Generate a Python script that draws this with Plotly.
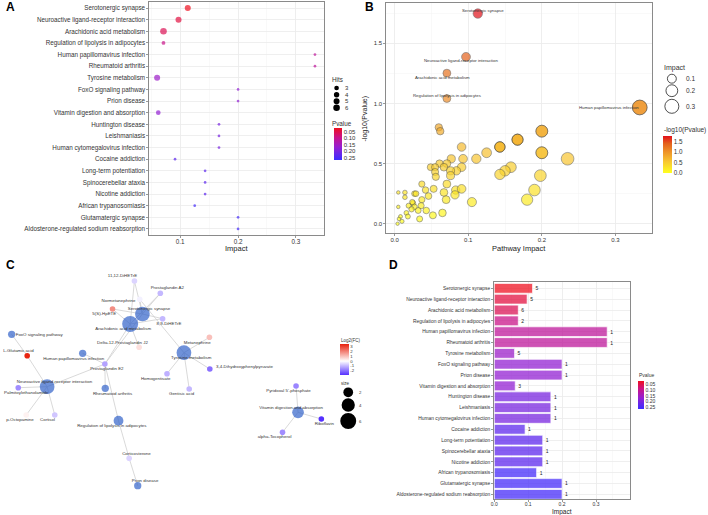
import math
import plotly.graph_objects as go

W, H = 708, 515
FONT = "Liberation Sans, Arial, sans-serif"


def px(x):
    return x / W


def py(y):
    return 1 - y / H


# ---------------- data: KEGG pathway enrichment (panels A, B, D) ----------------
pathways = [
    "Serotonergic synapse", "Neuroactive ligand-receptor interaction",
    "Arachidonic acid metabolism", "Regulation of lipolysis in adipocytes",
    "Human papillomavirus infection", "Rheumatoid arthritis", "Tyrosine metabolism",
    "FoxO signaling pathway", "Prion disease", "Vitamin digestion and absorption",
    "Huntington disease", "Leishmaniasis", "Human cytomegalovirus infection",
    "Cocaine addiction", "Long-term potentiation", "Spinocerebellar ataxia",
    "Nicotine addiction", "African trypanosomiasis", "Glutamatergic synapse",
    "Aldosterone-regulated sodium reabsorption",
]
impact = [0.113, 0.097, 0.071, 0.071, 0.333, 0.333, 0.060, 0.200, 0.200, 0.062,
          0.167, 0.167, 0.167, 0.091, 0.143, 0.143, 0.143, 0.125, 0.200, 0.200]
pvalue = [0.0179, 0.041, 0.056, 0.091, 0.108, 0.108, 0.158, 0.170, 0.170, 0.170,
          0.200, 0.200, 0.200, 0.230, 0.230, 0.230, 0.230, 0.257, 0.257, 0.257]
hits = [5, 5, 6, 2, 1, 1, 5, 1, 1, 3, 1, 1, 1, 1, 1, 1, 1, 1, 1, 1]

# other (unlabelled) pathways in the overview bubble plot (panel B)
other_impact = [0.235, 0.111, 0.093, 0.077, 0.061, 0.071, 0.049, 0.067, 0.055, 0.091,
                0.084, 0.076, 0.055, 0.056, 0.076, 0.158, 0.150, 0.143, 0.198, 0.037,
                0.071, 0.042, 0.053, 0.067, 0.083, 0.091, 0.190, 0.180, 0.105, 0.082,
                0.070, 0.046, 0.037, 0.027, 0.014, 0.005, 0.014, 0.029, 0.025, 0.024,
                0.036, 0.019, 0.027, 0.043, 0.032, 0.005, 0.016, 0.018, 0.008, 0.010,
                0.006, 0.004, 0.034, 0.052, 0.065, 0.023]
other_neglogp = [0.54, 0.54, 0.54, 0.54, 0.50, 0.50, 0.47, 0.47, 0.47, 0.47,
                 0.44, 0.44, 0.43, 0.39, 0.40, 0.47, 0.44, 0.41, 0.40, 0.33,
                 0.33, 0.28, 0.29, 0.26, 0.28, 0.29, 0.28, 0.20, 0.18, 0.24,
                 0.20, 0.23, 0.20, 0.25, 0.26, 0.26, 0.22, 0.25, 0.17, 0.18,
                 0.15, 0.15, 0.14, 0.11, 0.11, 0.14, 0.09, 0.06, 0.06, 0.02,
                 0.04, 0.00, 0.04, 0.07, 0.09, 0.12]
labeled_b = ["Serotonergic synapse", "Neuroactive ligand-receptor interaction",
             "Arachidonic acid metabolism", "Regulation of lipolysis in adipocytes",
             "Human papillomavirus infection"]

# ---------------- data: pathway–metabolite network (panel C) ----------------
net_pathways = ["Serotonergic synapse", "Arachidonic acid metabolism", "Tyrosine metabolism",
                "Neuroactive ligand-receptor interaction", "Regulation of lipolysis in adipocytes",
                "Vitamin digestion and absorption", "Human papillomavirus infection",
                "Rheumatoid arthritis", "FoxO signaling pathway", "Prion disease"]
compounds = ["11,12-DiHETrE", "Prostaglandin A2", "Normetanephrine", "5(S)-HpETE",
             "8,9-DiHETrE", "Delta-12-Prostaglandin J2", "Metanephrine", "L-Glutamic acid",
             "Prostaglandin E2", "3,4-Dihydroxyphenylpyruvate", "Homogentisate",
             "Palmitoylethanolamide", "Gentisic acid", "p-Octopamine", "Cortisol",
             "Corticosterone", "Pyridoxal 5'-phosphate", "Riboflavin", "alpha-Tocopherol"]
log2fc = [-0.6, -1.0, -0.2, 1.8, -1.0, 0.5, 1.0, 3.5, -1.3, -2.0, -1.1, -1.6, -1.0,
          0.2, -0.8, -0.6, -1.7, -2.9, -1.6]
edges = [
    ("11,12-DiHETrE", "Serotonergic synapse"), ("11,12-DiHETrE", "Arachidonic acid metabolism"),
    ("Prostaglandin A2", "Serotonergic synapse"), ("Prostaglandin A2", "Arachidonic acid metabolism"),
    ("Normetanephrine", "Serotonergic synapse"), ("Normetanephrine", "Tyrosine metabolism"),
    ("5(S)-HpETE", "Serotonergic synapse"), ("5(S)-HpETE", "Arachidonic acid metabolism"),
    ("8,9-DiHETrE", "Serotonergic synapse"), ("8,9-DiHETrE", "Arachidonic acid metabolism"),
    ("Delta-12-Prostaglandin J2", "Arachidonic acid metabolism"),
    ("Prostaglandin E2", "Arachidonic acid metabolism"), ("Prostaglandin E2", "Serotonergic synapse"),
    ("Prostaglandin E2", "Neuroactive ligand-receptor interaction"),
    ("Prostaglandin E2", "Human papillomavirus infection"), ("Prostaglandin E2", "Rheumatoid arthritis"),
    ("Prostaglandin E2", "Regulation of lipolysis in adipocytes"),
    ("L-Glutamic acid", "FoxO signaling pathway"),
    ("L-Glutamic acid", "Neuroactive ligand-receptor interaction"),
    ("Palmitoylethanolamide", "Neuroactive ligand-receptor interaction"),
    ("p-Octopamine", "Neuroactive ligand-receptor interaction"),
    ("Cortisol", "Neuroactive ligand-receptor interaction"),
    ("Metanephrine", "Tyrosine metabolism"), ("3,4-Dihydroxyphenylpyruvate", "Tyrosine metabolism"),
    ("Homogentisate", "Tyrosine metabolism"), ("Gentisic acid", "Tyrosine metabolism"),
    ("Corticosterone", "Regulation of lipolysis in adipocytes"), ("Corticosterone", "Prion disease"),
    ("Pyridoxal 5'-phosphate", "Vitamin digestion and absorption"),
    ("Riboflavin", "Vitamin digestion and absorption"),
    ("alpha-Tocopherol", "Vitamin digestion and absorption"),
]

# network layout (graph-drawing coordinates, panel C canvas units)
node_layout = {
    "Serotonergic synapse": (140, 314), "Arachidonic acid metabolism": (127.7, 324),
    "Tyrosine metabolism": (181.7, 352.7), "Neuroactive ligand-receptor interaction": (44.3, 386.7),
    "Regulation of lipolysis in adipocytes": (116, 420.7),
    "Vitamin digestion and absorption": (296.3, 412.3),
    "Human papillomavirus infection": (80, 353.3), "Rheumatoid arthritis": (102.7, 388.3),
    "FoxO signaling pathway": (8.7, 334.3), "Prion disease": (135.3, 485.7),
    "11,12-DiHETrE": (132, 281), "Prostaglandin A2": (158, 293.3), "Normetanephrine": (137.3, 299.3),
    "5(S)-HpETE": (110, 309), "8,9-DiHETrE": (160.3, 318.7), "Delta-12-Prostaglandin J2": (136.7, 347.3),
    "Metanephrine": (207.3, 337.3), "L-Glutamic acid": (24.3, 355.7), "Prostaglandin E2": (102.3, 364),
    "3,4-Dihydroxyphenylpyruvate": (207.7, 369), "Homogentisate": (164.7, 373.7),
    "Palmitoylethanolamide": (15.3, 387.7), "Gentisic acid": (187, 389), "p-Octopamine": (23.3, 415),
    "Cortisol": (52, 415), "Corticosterone": (126.7, 458.3), "Pyridoxal 5'-phosphate": (294.3, 386),
    "Riboflavin": (319.7, 419), "alpha-Tocopherol": (280.7, 432.3),
}
label_layout = {
    "11,12-DiHETrE": (120, 276), "Prostaglandin A2": (165, 288.3), "Normetanephrine": (116, 300.7),
    "5(S)-HpETE": (101.7, 314.3), "Serotonergic synapse": (146.7, 309.3), "8,9-DiHETrE": (166.7, 324),
    "Arachidonic acid metabolism": (120.7, 329), "FoxO signaling pathway": (36.3, 334.5),
    "Delta-12-Prostaglandin J2": (120, 342.7), "Metanephrine": (195, 342.7),
    "L-Glutamic acid": (15.5, 351), "Human papillomavirus infection": (71, 358.7),
    "Tyrosine metabolism": (189, 357.7), "Prostaglandin E2": (104.3, 368.7),
    "3,4-Dihydroxyphenylpyruvate": (242.5, 367), "Homogentisate": (153.3, 378.7),
    "Neuroactive ligand-receptor interaction": (51.7, 382.3), "Palmitoylethanolamide": (23.3, 392.7),
    "Rheumatoid arthritis": (110, 393.7), "Gentisic acid": (179.3, 394), "p-Octopamine": (17, 420.3),
    "Cortisol": (44.7, 420.3), "Regulation of lipolysis in adipocytes": (109.3, 425.7),
    "Corticosterone": (134, 453.7), "Prion disease": (142.7, 480.7),
    "Pyridoxal 5'-phosphate": (286.7, 391), "Vitamin digestion and absorption": (289.3, 407.7),
    "Riboflavin": (322.7, 423.7), "alpha-Tocopherol": (272.7, 437.3),
}

# ---------------- styles ----------------
PV_SCALE = [[0, "#3b2cff"], [0.4, "#9520d2"], [0.7, "#c8148c"], [1, "#ef0f1f"]]
NL_SCALE = [[0, "#ffff20"], [0.3, "#f8c832"], [0.57, "#ee9329"], [0.8, "#e4601c"], [1, "#e2101a"]]
FC_MIN, FC_MAX = -2.9, 3.56
FC_SCALE = [[0, "#5530ff"], [(-FC_MIN) / (FC_MAX - FC_MIN), "#ffffff"], [1, "#e8200c"]]
PV_MIN, PV_MAX = 0.0179, 0.268
TXT = "#333333"
GRID = "#ebebeb"
BORDER = "#8a8a8a"


def a_size(h):
    return 2.7 * math.sqrt(h)


def b_size(i):
    return 2 + 22 * math.sqrt(i)


def c_size(h):
    return 6 * math.sqrt(h) + 1.3


neglogp = [-math.log10(p) for p in pvalue]
rev_paths = list(reversed(pathways))

fig = go.Figure()

# ---- Panel A ----
fig.add_trace(go.Scatter(
    x=impact, y=pathways, mode="markers", xaxis="x", yaxis="y",
    marker=dict(size=[a_size(h) for h in hits], color=[-p for p in pvalue],
                coloraxis="coloraxis", line=dict(width=0)),
))

# ---- Panel B ----
fig.add_trace(go.Scatter(
    x=other_impact, y=other_neglogp, mode="markers", xaxis="x2", yaxis="y2",
    marker=dict(size=[b_size(i) for i in other_impact], color=other_neglogp,
                coloraxis="coloraxis2", line=dict(width=0.6, color="#3a3a3a")),
))
fig.add_trace(go.Scatter(
    x=impact, y=neglogp, mode="markers", xaxis="x2", yaxis="y2",
    marker=dict(size=[b_size(i) for i in impact], color=neglogp,
                coloraxis="coloraxis2", line=dict(width=0.6, color="#3a3a3a")),
))
b_label_shift = {
    "Serotonergic synapse": (5, 2.6),
    "Neuroactive ligand-receptor interaction": (-4.7, -4),
    "Arachidonic acid metabolism": (-4.3, -4),
    "Regulation of lipolysis in adipocytes": (-0.3, 2.6),
    "Human papillomavirus infection": (-31, 0),
}
annotations = []
for name in labeled_b:
    i = pathways.index(name)
    dx, dy = b_label_shift[name]
    annotations.append(dict(x=impact[i], y=neglogp[i], xref="x2", yref="y2", text=name,
                            showarrow=False, xshift=dx, yshift=dy,
                            font=dict(size=4.3, color=TXT)))

# ---- Panel C ----
ex, ey = [], []
for a, b in edges:
    ex += [node_layout[a][0], node_layout[b][0], None]
    ey += [node_layout[a][1], node_layout[b][1], None]
fig.add_trace(go.Scatter(x=ex, y=ey, mode="lines", xaxis="x3", yaxis="y3",
                         line=dict(color="#cfcfcf", width=0.8), hoverinfo="skip"))
fig.add_trace(go.Scatter(
    x=[node_layout[c][0] for c in compounds], y=[node_layout[c][1] for c in compounds],
    mode="markers", xaxis="x3", yaxis="y3",
    marker=dict(size=5.6, color=log2fc, coloraxis="coloraxis3", line=dict(width=0)),
))
net_hits = [hits[pathways.index(p)] for p in net_pathways]
fig.add_trace(go.Scatter(
    x=[node_layout[p][0] for p in net_pathways], y=[node_layout[p][1] for p in net_pathways],
    mode="markers", xaxis="x3", yaxis="y3",
    marker=dict(size=[c_size(h) for h in net_hits], color="#3262c9", line=dict(width=0)),
))
all_nodes = compounds + net_pathways
fig.add_trace(go.Scatter(
    x=[label_layout[n][0] for n in all_nodes], y=[label_layout[n][1] for n in all_nodes],
    text=all_nodes, mode="text", xaxis="x3", yaxis="y3",
    textfont=dict(size=4.4, color=TXT), textposition="middle center",
))

# ---- Panel D ----
fig.add_trace(go.Bar(
    x=impact, y=pathways, orientation="h", xaxis="x4", yaxis="y4",
    marker=dict(color=[-p for p in pvalue], coloraxis="coloraxis4",
                line=dict(color="white", width=0.7), opacity=0.74),
    text=[str(h) for h in hits], textposition="outside", cliponaxis=False,
    textfont=dict(size=5, color="#222"), width=0.9,
))


# ---------------- axes ----------------
def base_axis(**kw):
    d = dict(showline=True, mirror=True, linecolor=BORDER, linewidth=1,
             showgrid=True, gridcolor=GRID, gridwidth=0.8, zeroline=False,
             ticks="outside", ticklen=2, tickwidth=0.6, tickcolor="#555",
             tickfont=dict(size=6.3, color=TXT, family=FONT))
    d.update(kw)
    return d


minor_x = dict(showgrid=True, gridcolor="#f4f4f4", gridwidth=0.5, dtick=0.05, tick0=0)

fig.update_layout(
    xaxis=base_axis(domain=[px(147), px(322)], range=[0.0466, 0.348], anchor="y",
                    tickvals=[0.1, 0.2, 0.3], ticktext=["0.1", "0.2", "0.3"], minor=minor_x,
                    ticklabelstandoff=-2),
    yaxis=base_axis(domain=[py(235), py(2)], anchor="x", type="category",
                    categoryorder="array", categoryarray=rev_paths, range=[-0.52, 19.52]),
    xaxis2=base_axis(domain=[px(385), px(652)], range=[-0.0112, 0.350], anchor="y2",
                     tickvals=[0, 0.1, 0.2, 0.3], ticktext=["0.0", "0.1", "0.2", "0.3"],
                     minor=minor_x, tickfont=dict(size=6, color=TXT), ticklabelstandoff=-1),
    yaxis2=base_axis(domain=[py(233), py(3)], range=[-0.077, 1.835], anchor="x2",
                     tickvals=[0, 0.5, 1.0, 1.5], ticktext=["0.0", "0.5", "1.0", "1.5"],
                     minor=dict(showgrid=True, gridcolor="#f4f4f4", gridwidth=0.5, dtick=0.25, tick0=0),
                     tickfont=dict(size=6, color=TXT)),
    xaxis3=dict(domain=[0, px(360)], range=[0, 360], visible=False, anchor="y3"),
    yaxis3=dict(domain=[0, py(255)], range=[515, 255], visible=False, anchor="x3"),
    xaxis4=base_axis(domain=[px(493.3), px(629.3)], range=[0, 0.399], anchor="y4",
                     tickvals=[0, 0.1, 0.2, 0.3], ticktext=["0.0", "0.1", "0.2", "0.3"],
                     minor=minor_x, tickfont=dict(size=5, color=TXT), ticklabelstandoff=-2),
    yaxis4=base_axis(domain=[py(499), py(281.7)], anchor="x4", type="category",
                     categoryorder="array", categoryarray=rev_paths, range=[-0.43, 19.61],
                     tickfont=dict(size=4.9, color=TXT)),
)


def cbar(left, top, length, thick, tickvals, ticktext, size):
    return dict(x=px(left), xanchor="left", y=py(top), yanchor="top",
                len=length, lenmode="pixels", thickness=thick, thicknessmode="pixels",
                outlinewidth=0, xpad=0, ypad=0, ticks="", tickvals=tickvals, ticktext=ticktext,
                tickfont=dict(size=size, color=TXT, family=FONT), title=dict(text=""))


pv_ticks = [-0.05, -0.10, -0.15, -0.20, -0.25]
pv_text = ["0.05", "0.10", "0.15", "0.20", "0.25"]
fig.update_layout(
    coloraxis=dict(colorscale=PV_SCALE, cmin=-PV_MAX, cmax=-PV_MIN,
                   colorbar=cbar(332, 127.7, 31.6, 8, pv_ticks, pv_text, 6)),
    coloraxis2=dict(colorscale=NL_SCALE, cmin=0, cmax=1.75,
                    colorbar=cbar(663, 136, 36.7, 9, [0, 0.5, 1.0, 1.5], ["0.0", "0.5", "1.0", "1.5"], 6.3)),
    coloraxis3=dict(colorscale=FC_SCALE, cmin=FC_MIN, cmax=FC_MAX,
                    colorbar=cbar(338, 344, 31, 9, [-2, -1, 0, 1, 2, 3],
                                  ["-2", "-1", "0", "1", "2", "3"], 4.3)),
    coloraxis4=dict(colorscale=PV_SCALE, cmin=-PV_MAX, cmax=-PV_MIN,
                    colorbar=cbar(637.3, 381, 28.3, 6, pv_ticks, pv_text, 5)),
)


# ---------------- legends / axis titles / panel letters ----------------
def note(x, y, text, size, anchor="left", bold=False, color=TXT, angle=0):
    annotations.append(dict(x=px(x), y=py(y), xref="paper", yref="paper", text=text,
                            showarrow=False, xanchor=anchor, yanchor="middle", textangle=angle,
                            font=dict(size=size, color=color, family=FONT,
                                      weight="bold" if bold else "normal")))


shapes = []


def circle(cx, cy, d, fill, line):
    shapes.append(dict(type="circle", xref="paper", yref="paper",
                       x0=px(cx - d / 2), x1=px(cx + d / 2), y0=py(cy + d / 2), y1=py(cy - d / 2),
                       fillcolor=fill, line=dict(color=line, width=0.8 if fill == "white" else 0)))


for letter, (lx, ly) in {"A": (1.5, 7), "B": (361.5, 7), "C": (1.5, 265), "D": (385.5, 265)}.items():
    note(lx, ly, letter, 12, bold=True, color="black")

# axis titles
note(234.5, 248, "Impact", 7.5, anchor="center", color="#222222")
note(518.5, 248, "Pathway Impact", 7.5, anchor="center", color="#222222")
note(364, 118, "-log10(Pvalue)", 7, anchor="center", angle=-90, color="#222222")
note(561.3, 511.5, "Impact", 6.5, anchor="center", color="#222222")

# A: Hits + Pvalue legends
note(328.5, 80, "Hits", 6.3)
for hv, yy in zip([3, 4, 5, 6], [88, 94.7, 101.3, 107.7]):
    circle(335, yy, a_size(hv), "black", "black")
    note(341.5, yy, str(hv), 6)
note(328.5, 123.3, "Pvalue", 6.3)

# B: Impact + -log10 legends
note(661.7, 68, "Impact", 7)
for iv, yy in zip([0.1, 0.2, 0.3], [78.7, 90.7, 106.3]):
    circle(671.7, yy, b_size(iv), "white", "#222")
    note(684, yy, f"{iv:.1f}", 6.5)
note(662, 130, "-log10(Pvalue)", 6.5)

# C: Log2(FC) + size legends
note(337.5, 340, "Log2(FC)", 4.5)
note(337.5, 383, "size", 4.5)
for sv, yy in zip([2, 4, 6], [392.3, 405, 421]):
    circle(346.7, yy, c_size(sv), "black", "black")
    note(356, yy, str(sv), 4.3)

# D: Pvalue legend
note(636.5, 375, "Pvalue", 5)

fig.update_layout(
    width=W, height=H, autosize=False, margin=dict(l=0, r=0, t=0, b=0, pad=0),
    paper_bgcolor="white", plot_bgcolor="white", showlegend=False, hovermode=False,
    font=dict(family=FONT, color=TXT), annotations=annotations, shapes=shapes,
)

fig.write_html("out.html", config={"displayModeBar": False, "staticPlot": True},
               post_script="document.body.style.margin='0';document.body.style.overflow='hidden';")
